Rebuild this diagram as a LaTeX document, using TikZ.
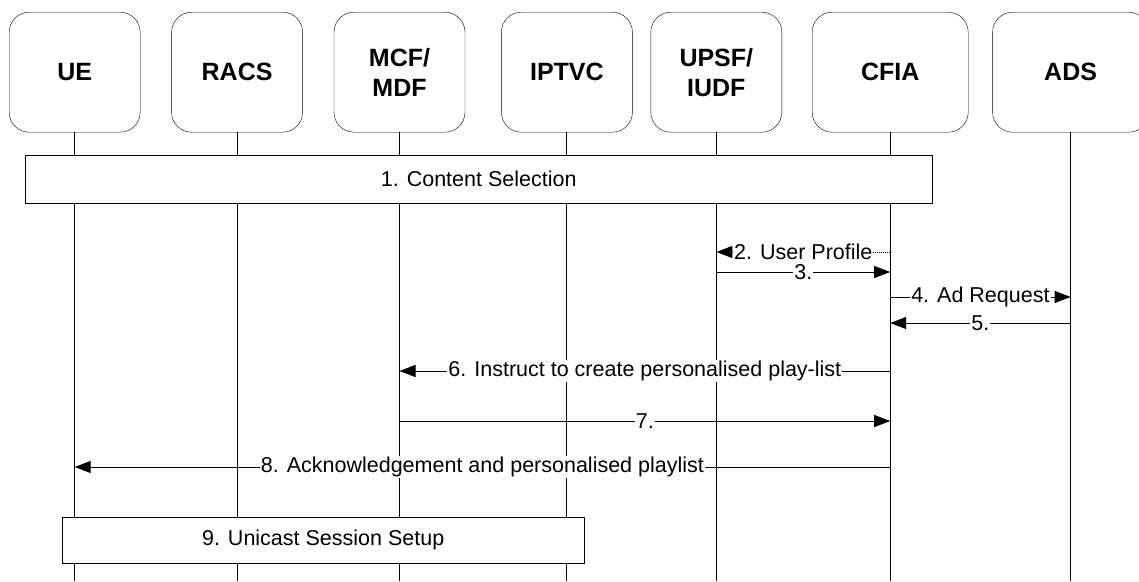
\documentclass[tikz,border=0pt]{standalone}
\usepackage{fontspec}
\setmainfont{Liberation Sans}
\usetikzlibrary{arrows.meta, positioning}

\begin{document}
\begin{tikzpicture}[
  x=1pt, y=-1pt,
  entity/.style={draw, rectangle, rounded corners=20pt, minimum width=131pt, minimum height=120pt, font=\fontsize{25}{30}\selectfont\bfseries, align=center, inner sep=0pt},
  wideentity/.style={entity, minimum width=156pt},
  stepbox/.style={draw, rectangle, fill=white, inner sep=0pt, font=\fontsize{21.5}{24}\selectfont},
  lbl/.style={fill=white, inner sep=1pt, font=\fontsize{21.5}{24}\selectfont},
  msg/.style={-{Triangle[length=16pt, width=12pt]}, line width=1pt},
  lifeline/.style={line width=0.9pt}
]
\useasboundingbox (0,0) rectangle (1139,581);

% Entities
\node[entity, anchor=north west] (ue) at (9,12) {UE};
\node[entity, right=31pt of ue] (racs) {RACS};
\node[entity, right=31pt of racs] (mcf) {MCF/\\MDF};
\node[entity, right=36pt of mcf] (iptvc) {IPTVC};
\node[entity, right=18pt of iptvc] (upsf) {UPSF/\\IUDF};
\node[wideentity, right=30pt of upsf] (cfia) {CFIA};
\node[wideentity, right=24pt of cfia] (ads) {ADS};

% Lifelines
\coordinate (bottom) at (0,581);
\foreach \ent in {ue, racs, mcf, iptvc, upsf, cfia, ads}
  \draw[lifeline] (\ent.south) -- (\ent.south |- bottom);

% Rows of the messages
\coordinate (m2) at (0,252);
\coordinate (m3) at (0,272);
\coordinate (m4) at (0,297);
\coordinate (m5) at (0,323);
\coordinate (m6) at (0,371);
\coordinate (m7) at (0,421);
\coordinate (m8) at (0,467);

% Procedure boxes
\node[stepbox, minimum width=907pt, minimum height=48pt, anchor=north west] (sel) at (25,155) {1. Content Selection};
\node[stepbox, minimum width=522pt, minimum height=46pt, anchor=north west] (setup) at (62,517) {9. Unicast Session Setup};

% Messages
\draw[msg, densely dotted] (cfia |- m2) -- node[lbl] (l2) {2. User Profile} (upsf |- m2);
\draw[msg] (upsf |- m3) -- node[lbl] (l3) {3.} (cfia |- m3);
\draw[msg] (cfia |- m4) -- node[lbl] (l4) {4. Ad Request} (ads |- m4);
\draw[msg] (ads |- m5) -- node[lbl] (l5) {5.} (cfia |- m5);
\draw[msg] (cfia |- m6) -- node[lbl] (l6) {6. Instruct to create personalised play-list} (mcf |- m6);
\draw[msg] (mcf |- m7) -- node[lbl] (l7) {7.} (cfia |- m7);
\draw[msg] (cfia |- m8) -- node[lbl] (l8) {8. Acknowledgement and personalised playlist} (ue |- m8);

\end{tikzpicture}
\end{document}
